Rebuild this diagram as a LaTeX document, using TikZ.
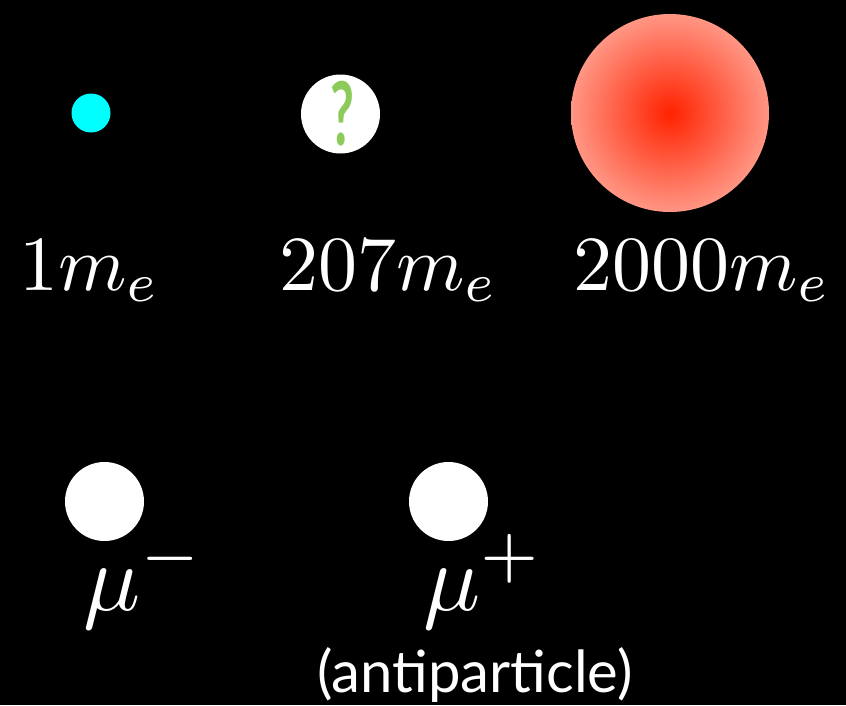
\documentclass[tikz,border=0pt]{standalone}
\usepackage{fontspec}
\newfontfamily\lato{Lato}
\usetikzlibrary{shadings}
\definecolor{qgreen}{HTML}{8CCB5A}
\definecolor{ballin}{HTML}{FF2200}
\definecolor{ballout}{HTML}{FF9684}
\definecolor{brightcyan}{HTML}{00FFFF}
\tikzset{
  mass/.style={text=white, inner sep=0pt, anchor=base west},
  muon/.style={text=white, inner sep=0pt, anchor=base west},
  dot/.style={fill=white, draw=none}
}
\begin{document}
\begin{tikzpicture}[x=1pt,y=-1pt]
\fill[black] (0,0) rectangle (846,705);
\useasboundingbox (0,0) rectangle (846,705);
% top row
\fill[brightcyan] (91,113) circle (19.5);
\node[circle, fill=white, minimum size=79pt, inner sep=0pt] (q) at (340.5,114) {};
\node[text=qgreen, inner sep=0pt] (qm) at (342,114) {\scalebox{5.2}[8.8]{\lato\bfseries ?}};
\shade[inner color=ballin, outer color=ballout] (670,113) circle (99);
% mass labels
\node[mass] (m1) at (19,290) {\scalebox{7.8}{$1m_e$}};
\node[mass] (m2) at (279,290) {\scalebox{7.8}{$207m_e$}};
\node[mass] (m3) at (573,290) {\scalebox{7.8}{$2000m_e$}};
% muons
\fill[dot] (104.5,501.5) circle (39.5);
\fill[dot] (448.5,501.5) circle (39.5);
\node[muon] (mum) at (83,610) {\scalebox{9.5}{$\mu^-$}};
\node[muon] (mup) at (423,610) {\scalebox{9.5}{$\mu^+$}};
\node[text=white, inner sep=0pt, anchor=base] (anti) at (475,692) {\scalebox{5.8}{\lato (antiparticle)}};
\end{tikzpicture}
\end{document}
